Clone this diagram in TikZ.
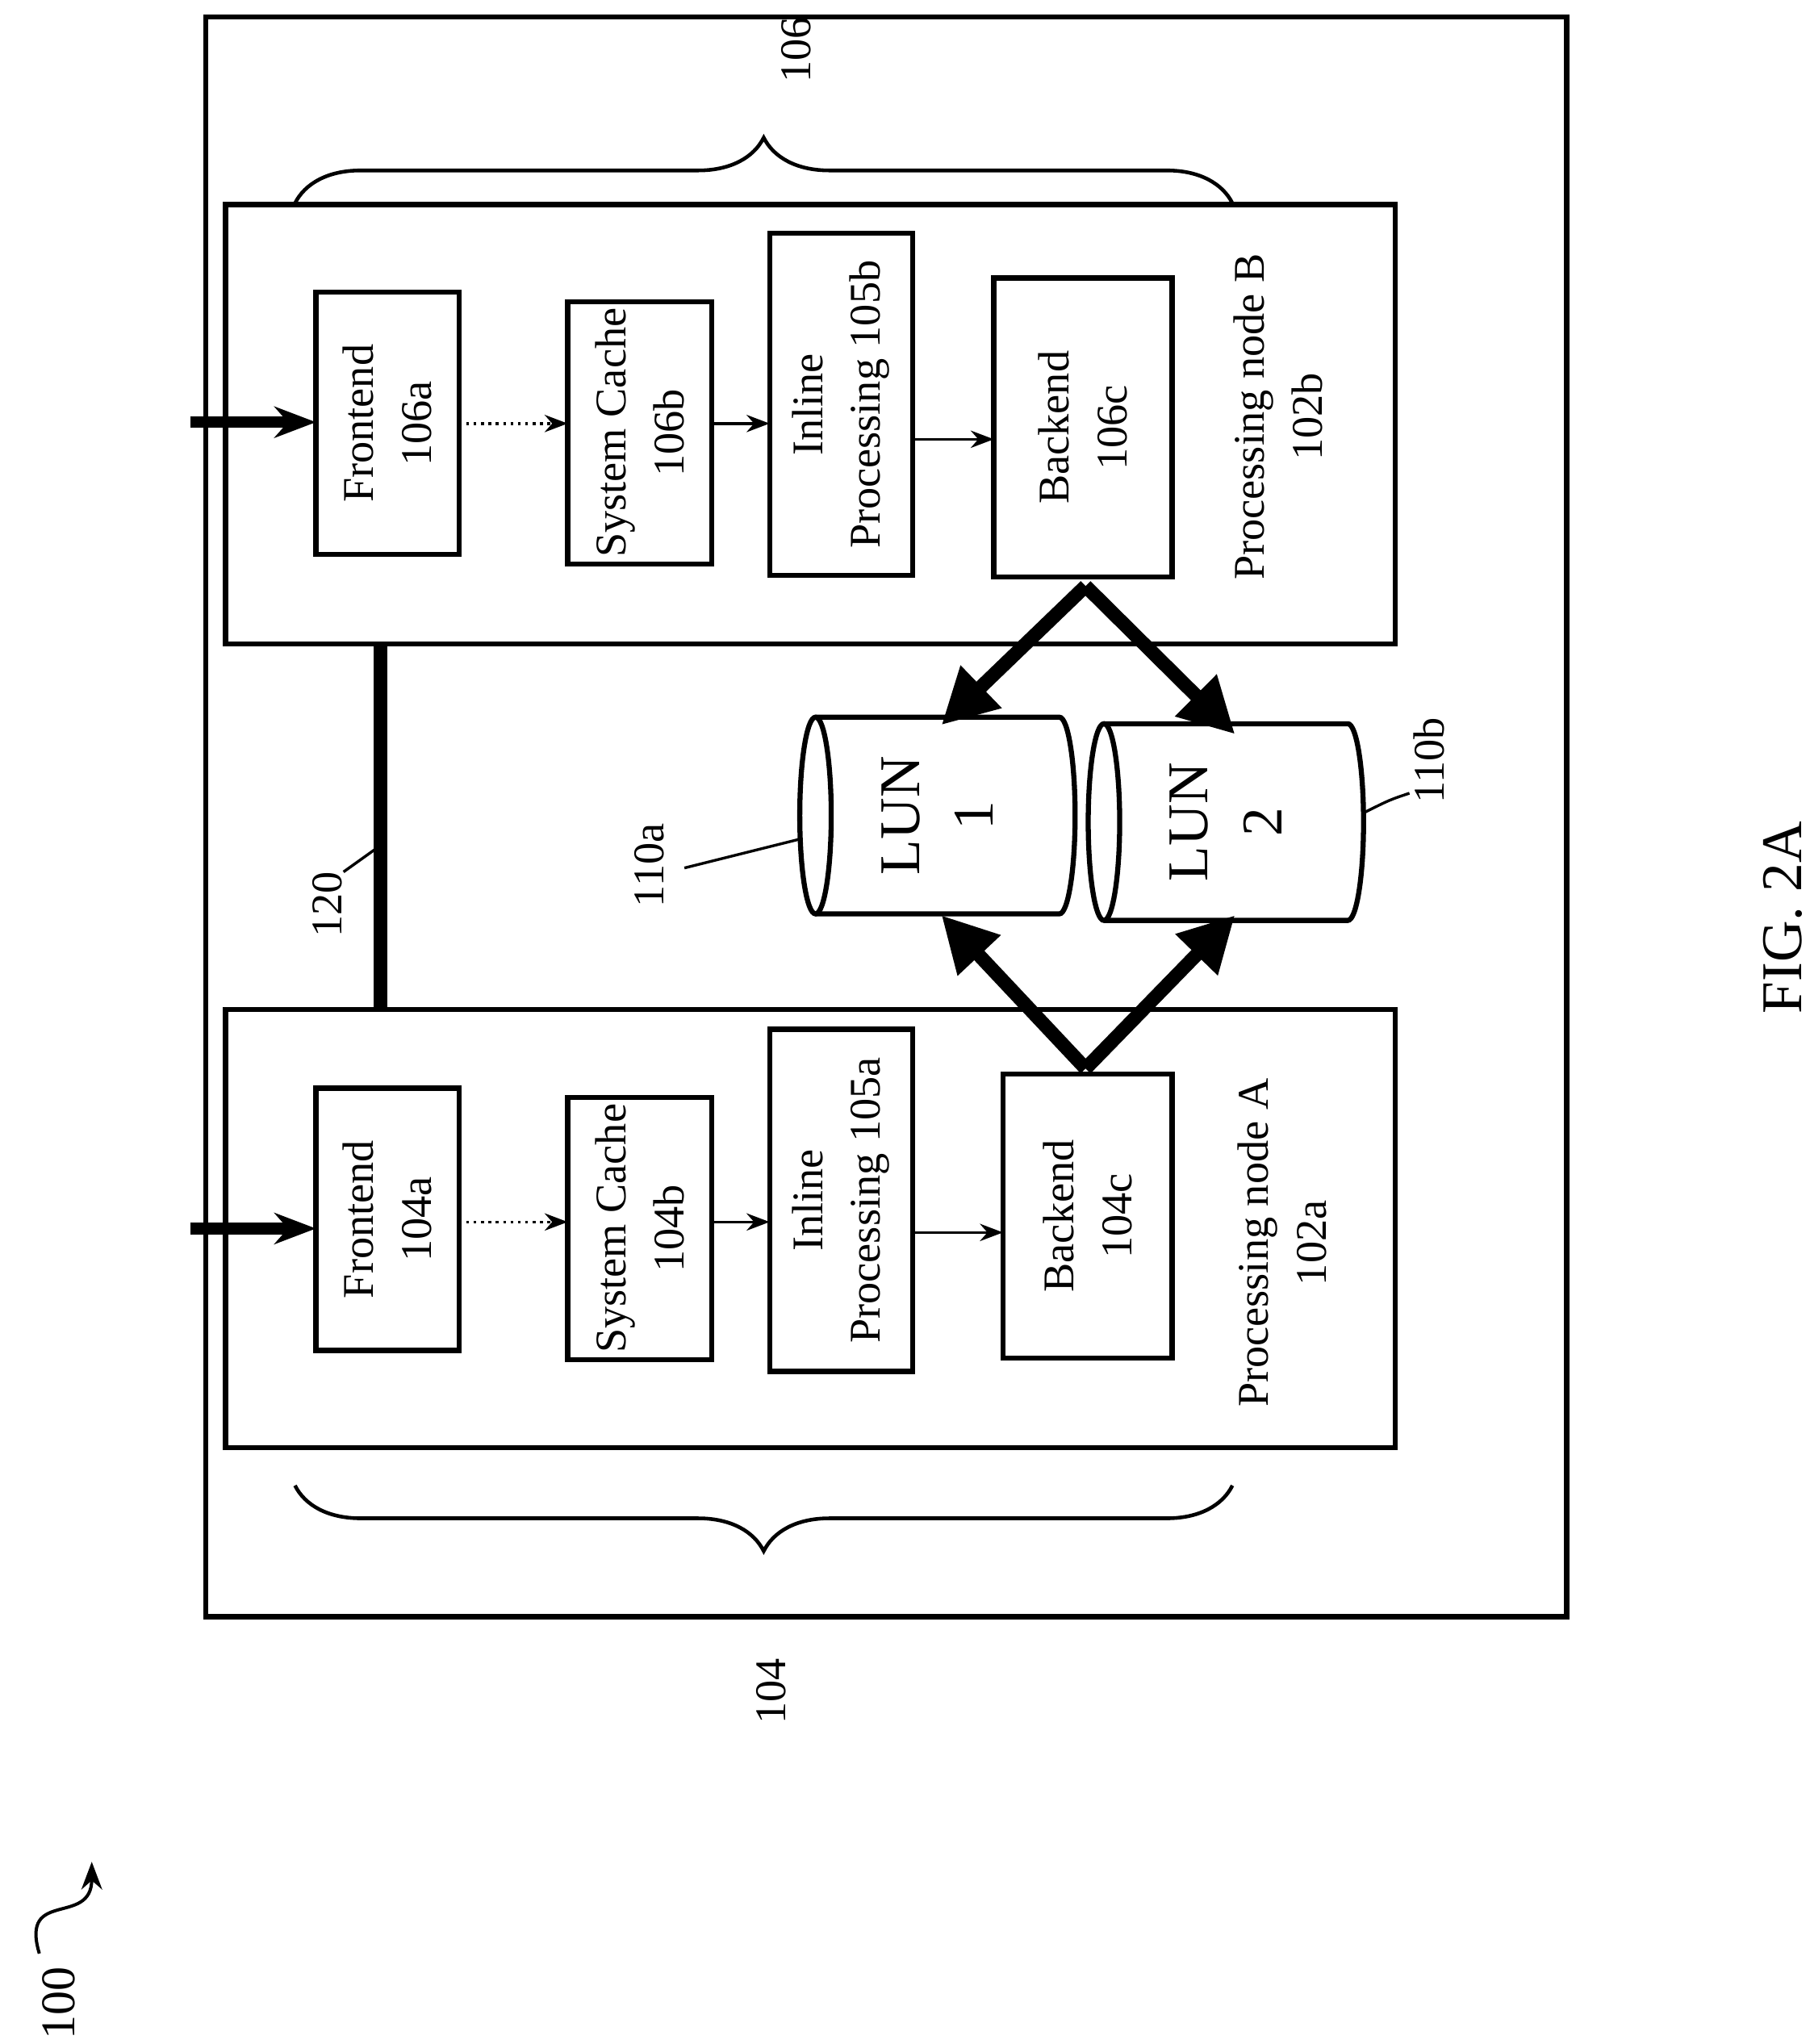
\documentclass[tikz,border=0pt]{standalone}
\usepackage{fontspec}
\setmainfont{Liberation Serif}
\usetikzlibrary{arrows.meta,decorations.pathreplacing}
\begin{document}
\begin{tikzpicture}[x=0.01cm,y=-0.01cm,
  lbl/.style={rotate=90,align=center,font=\fontsize{9.5}{12.5}\selectfont},
  thin/.style={-{Stealth[length=5pt]},line width=0.6pt},
  fat/.style={-{Triangle[length=12pt,width=12pt]},line width=3pt},
  brace/.style={decorate,decoration={brace,amplitude=0.5cm},line width=0.8pt}]
\useasboundingbox (0,0) rectangle (1380,1559);
\draw[line width=1.1pt] (157,13) rectangle (1195,1233);
% node boxes
\draw[line width=1.1pt] (172,156) rectangle (1064,491);
\draw[line width=1.1pt] (172,770) rectangle (1064,1104);
\coordinate (Bbot) at (290,491); \coordinate (Atop) at (290,770);
\newcommand{\blk}[6]{\draw[line width=1.1pt] (#2,#3) rectangle (#4,#5);
  \node[lbl] (#1) at ({(#2+#4)/2},{(#3+#5)/2}) {#6};}
\blk{fb}{241}{223}{350}{423}{Frontend\\106a}
\blk{sb}{433}{230}{543}{430}{System Cache\\106b}
\blk{ib}{587}{178}{696}{439}{Inline\\Processing 105b}
\blk{bb}{758}{212}{894}{440}{Backend\\106c}
\blk{fa}{241}{830}{350}{1030}{Frontend\\104a}
\blk{sa}{433}{837}{543}{1037}{System Cache\\104b}
\blk{ia}{587}{785}{696}{1046}{Inline\\Processing 105a}
\blk{ba}{765}{819}{894}{1036}{Backend\\104c}
\node[lbl] (pb) at (975,318) {Processing node B\\102b};
\node[lbl] (pa) at (978,948) {Processing node A\\102a};
% inputs
\coordinate (inb) at (145,322); \coordinate (ina) at (145,937);
\draw[-{Stealth[length=9pt]},line width=2.5pt] (inb) -- (241,322);
\draw[-{Stealth[length=9pt]},line width=2.5pt] (ina) -- (241,937);
% small arrows
\draw[thin,densely dotted] (350,323) -- (433,323);
\draw[thin] (543,323) -- (587,323);
\draw[thin] (696,335) -- (758,335);
\draw[thin,densely dotted] (350,932) -- (433,932);
\draw[thin] (543,932) -- (587,932);
\draw[thin] (696,940) -- (765,940);
% link 120
\draw[line width=3pt] (Bbot) -- (Atop);
\node[rotate=90,font=\fontsize{9.5}{12}\selectfont] (l120) at (250,690) {120};
\draw[line width=0.6pt] (262,665) -- (290,645);
% cylinders
\newcommand{\cyl}[4]{%
  \draw[line width=1.1pt,fill=white] (#2,#4-75) -- (#3,#4-75) arc[start angle=90,end angle=-90,x radius=12,y radius=-75] -- (#2,#4+75);
  \draw[line width=1.1pt] (#2,#4) ellipse[x radius=12,y radius=75];
  \coordinate (#1) at ({(#2+#3)/2},#4);}
\cyl{lun1}{622}{808}{622}
\cyl{lun2}{842}{1028}{627}
\node[lbl,font=\fontsize{12.5}{16}\selectfont] at (715,622) {LUN\\1};
\node[lbl,font=\fontsize{12.5}{16}\selectfont] at (935,627) {LUN\\2};
\node[rotate=90,font=\fontsize{9.5}{12}\selectfont] (l110a) at (495,660) {110a};
\draw[line width=0.6pt] (522,662) -- (610,640);
\node[rotate=90,font=\fontsize{9.5}{12}\selectfont] (l110b) at (1090,580) {110b};
\draw[line width=0.6pt] (1040,620) .. controls (1060,610) .. (1075,605);
% fat arrows
\coordinate (bbs) at (828,447); \coordinate (bas) at (828,815);
\draw[fat] (bbs) -- (718,553);
\draw[fat] (bbs) -- (942,560);
\draw[fat] (bas) -- (718,698);
\draw[fat] (bas) -- (942,698);
% braces
\draw[brace] (225,155) -- (940,155);
\draw[brace] (940,1133) -- (225,1133);
\node[rotate=90,font=\fontsize{9.5}{12}\selectfont] (l106) at (607,38) {106};
\node[rotate=90,font=\fontsize{9.5}{12}\selectfont] (l104) at (588,1290) {104};
% fig
\node[rotate=90,font=\fontsize{12.5}{16}\selectfont] (fig) at (1360,700) {FIG. 2A};
\node[rotate=90,font=\fontsize{10.5}{13}\selectfont] (l100) at (45,1528) {100};
\draw[line width=0.7pt,-{Stealth[length=6pt]}] (30,1490) .. controls (15,1440) and (70,1470) .. (70,1420);
\end{tikzpicture}
\end{document}
